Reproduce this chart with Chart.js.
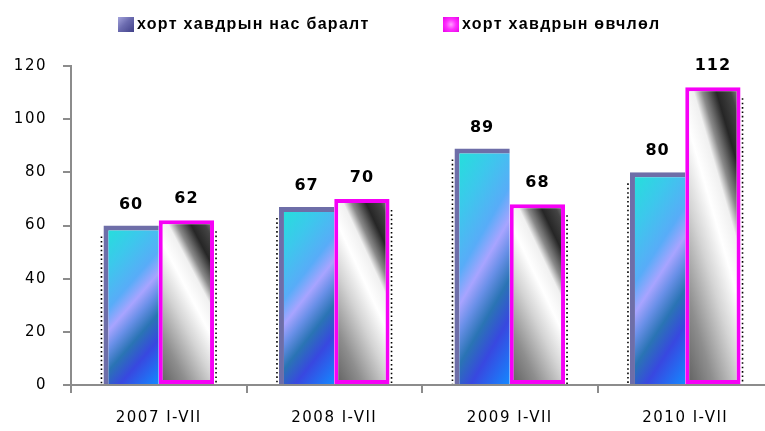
<!DOCTYPE html>
<html>
<head>
<meta charset="utf-8">
<script src="https://cdn.jsdelivr.net/npm/chart.js@4.4.1/dist/chart.umd.min.js"></script>
<style>
  html, body { margin: 0; padding: 0; background: #fff; overflow: hidden; }
  #wrap { position: relative; width: 765px; height: 431px; overflow: hidden; }
  #chart { position: absolute; left: 0; top: 0; }
  .leg { position: absolute; top: 15px; height: 18px; display: flex; align-items: center;
         font: bold 16px "Liberation Sans", Arial, sans-serif; letter-spacing: 1.3px; color: #000; white-space: nowrap; }
  .leg i { display: inline-block; width: 16px; height: 15px; margin-right: 3px; }
  #leg1 { left: 118px; }
  #leg2 { left: 443px; }
  #leg1 i { background: linear-gradient(135deg, #a4a4dc 0%, #6c6cb0 45%, #404088 100%); }
  #leg2 i { background: radial-gradient(circle, #ffa0ff 0%, #ff30ff 45%, #e800e8 100%); }
</style>
</head>
<body>
<div id="wrap">
  <canvas id="chart"></canvas>
  <div class="leg" id="leg1"><i></i><span id="name1"></span></div>
  <div class="leg" id="leg2"><i></i><span id="name2"></span></div>
</div>
<script>
const categories = ["2007 I-VII", "2008 I-VII", "2009 I-VII", "2010 I-VII"];
const seriesNames = ["хорт хавдрын нас баралт", "хорт хавдрын өвчлөл"];
const mortality = [60, 67, 89, 80];
const incidence = [62, 70, 68, 112];
const yMin = 0;
const yMax = 120;
const yStep = 20;

document.getElementById("name1").textContent = seriesNames[0];
document.getElementById("name2").textContent = seriesNames[1];

const canvas = document.getElementById("chart");
canvas.width = 780;
canvas.height = 431;
canvas.style.width = "780px";
canvas.style.height = "431px";

// gradient running across a bar along (dx, dy)
function barGradient(ctx, l, t, r, b, dx, dy, stops) {
    const len = Math.hypot(dx, dy);
    const ux = dx / len, uy = dy / len;
    const cx = (l + r) / 2, cy = (t + b) / 2;
    const pc = cx * ux + cy * uy;
    const proj = [[l, t], [r, t], [l, b], [r, b]].map(p => p[0] * ux + p[1] * uy);
    const mn = Math.min(...proj) - pc, mx = Math.max(...proj) - pc;
    const g = ctx.createLinearGradient(cx + mn * ux, cy + mn * uy, cx + mx * ux, cy + mx * uy);
    stops.forEach(s => g.addColorStop(s[0], s[1]));
    return g;
}

const blueStops = [
    [0, "#20e4d8"], [0.22, "#3cc8ec"], [0.4, "#58acf8"], [0.5, "#a8a4ff"],
    [0.58, "#6a90e8"], [0.68, "#2a74b4"], [0.8, "#3848e0"], [1, "#1488ff"]
];
const grayStops = [
    [0, "#5c5c5c"], [0.2, "#8e8e8e"], [0.4, "#d4d4d4"], [0.55, "#ffffff"],
    [0.66, "#f0f0f0"], [0.72, "#8a8a8a"], [0.82, "#262626"], [0.92, "#444444"], [1, "#9a9a9a"]
];

const barFill = {
    id: "barFill",
    beforeDatasetsDraw(chart) {
        const ctx = chart.ctx;
        chart.data.datasets.forEach((ds, di) => {
            chart.getDatasetMeta(di).data.forEach(bar => {
                const l = bar.x - bar.width / 2, r = bar.x + bar.width / 2;
                const t = bar.y, b = bar.base, h = b - t, w = r - l;
                bar.options.backgroundColor = di === 0
                    ? barGradient(ctx, l, t, r, b, 0.4 * h, w, blueStops)
                    : barGradient(ctx, l, t, r, b, 0.45 * h, -0.7 * w, grayStops);
            });
        });
    },
    afterDatasetsDraw(chart) {
        const ctx = chart.ctx;
        ctx.save();
        // dotted shadow edges
        ctx.strokeStyle = "#000";
        ctx.lineWidth = 1.6;
        ctx.setLineDash([1.6, 2.8]);
        chart.data.datasets.forEach((ds, di) => {
            chart.getDatasetMeta(di).data.forEach(bar => {
                const x = di === 0 ? bar.x - bar.width / 2 - 2 : bar.x + bar.width / 2 + 2;
                ctx.beginPath();
                ctx.moveTo(x, bar.y + 11);
                ctx.lineTo(x, bar.base);
                ctx.stroke();
            });
        });
        ctx.setLineDash([]);
        // value labels
        ctx.font = "bold 16px 'DejaVu Sans'";
        ctx.letterSpacing = "1px";
        ctx.fillStyle = "#000";
        ctx.textAlign = "center";
        ctx.textBaseline = "middle";
        chart.data.datasets.forEach((ds, di) => {
            chart.getDatasetMeta(di).data.forEach((bar, i) => {
                ctx.fillText(String(ds.data[i]), bar.x, bar.y - 21);
            });
        });
        ctx.restore();
    }
};

const spacing = {
    id: "spacing",
    beforeDraw(chart) { chart.ctx.letterSpacing = "1.5px"; }
};

new Chart(canvas, {
    type: "bar",
    data: {
        labels: categories,
        datasets: [
            {
                label: seriesNames[0],
                data: mortality,
                backgroundColor: () => "#40a0f0",
                borderColor: "#6e6ea8",
                borderWidth: {top: 5, left: 5, right: 0, bottom: 0},
                borderSkipped: false
            },
            {
                label: seriesNames[1],
                data: incidence,
                backgroundColor: () => "#c0c0c0",
                borderColor: "#f600f6",
                borderWidth: 4,
                borderSkipped: false
            }
        ]
    },
    options: {
        responsive: false,
        animation: false,
        datasets: {bar: {barPercentage: 1, categoryPercentage: 0.63}},
        layout: {padding: {top: 66, right: 7, left: 0, bottom: 0}},
        plugins: {legend: {display: false}, tooltip: {enabled: false}},
        scales: {
            x: {
                afterFit: s => { s.height = 46; },
                grid: {display: true, drawOnChartArea: false, offset: true, tickLength: 8, color: "#8c8c8c", lineWidth: 2},
                border: {display: true, color: "#8c8c8c", width: 2},
                ticks: {color: "#000", padding: 16, font: {family: "DejaVu Sans", size: 15}}
            },
            y: {
                min: yMin,
                max: yMax,
                afterFit: s => { s.width = 71; },
                grid: {display: true, drawOnChartArea: false, tickLength: 8, color: "#8c8c8c", lineWidth: 2},
                border: {display: true, color: "#8c8c8c", width: 2},
                ticks: {stepSize: yStep, color: "#000", padding: 16, font: {family: "DejaVu Sans", size: 15}}
            }
        }
    },
    plugins: [barFill, spacing]
});
</script>
</body>
</html>
